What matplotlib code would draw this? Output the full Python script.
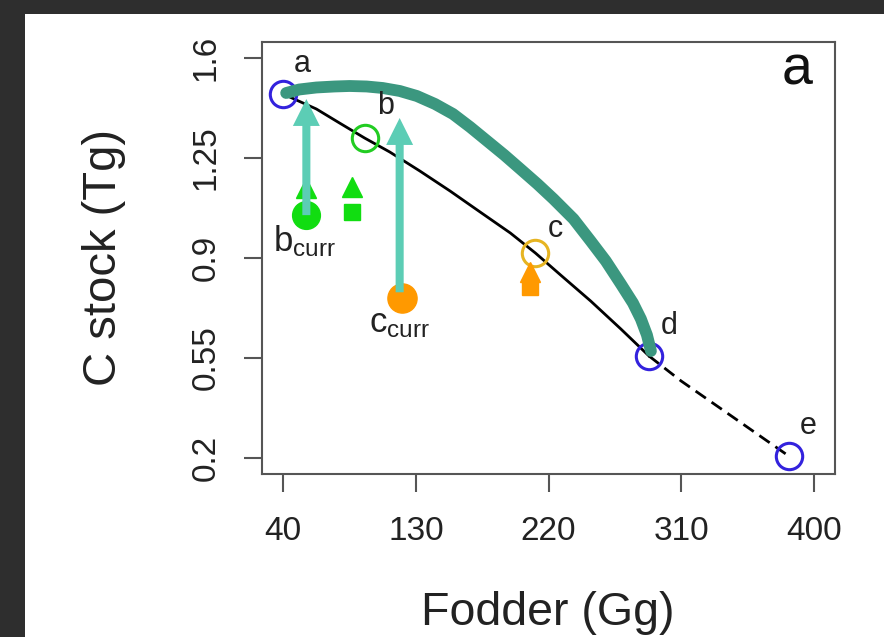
import matplotlib.pyplot as plt
from matplotlib.patches import Rectangle

plt.rcParams["font.family"] = ["Liberation Sans", "DejaVu Sans"]
plt.rcParams["mathtext.fontset"] = "custom"
plt.rcParams["mathtext.rm"] = "Liberation Sans"
plt.rcParams["mathtext.it"] = "Liberation Sans"
plt.rcParams["hatch.color"] = "#181818"
plt.rcParams["hatch.linewidth"] = 2.0

# trade-off frontier (solid part, then dashed extension)
front_x = [40, 48.9, 62.5, 78.2, 95.2, 112.3, 132.7, 153.2, 173.6, 194.1, 211.1, 228.2, 248.6, 269.1, 288.2]
front_y = [1.474, 1.453, 1.4215, 1.3725, 1.32, 1.271, 1.2045, 1.1345, 1.061, 0.9875, 0.9175, 0.8405, 0.7495, 0.6515, 0.557]
ext_x = [288.2, 310, 337.3, 364.5, 383]
ext_y = [0.557, 0.4695, 0.3715, 0.2735, 0.207]

# thick curve from a to d
arc_x = [42.0, 50.9, 62.5, 74.8, 85.0, 96.6, 107.5, 119.1, 130.7, 143.0, 155.2, 166.8, 178.4,
         190.0, 200.9, 212.5, 223.4, 237.0, 248.6, 258.9, 269.1, 277.3, 282.7, 286.8, 289.5]
arc_y = [1.4775, 1.4898, 1.4968, 1.5003, 1.502, 1.5003, 1.495, 1.4845, 1.467, 1.439, 1.404,
         1.3585, 1.3095, 1.2605, 1.2115, 1.159, 1.1065, 1.0365, 0.9595, 0.8895, 0.809, 0.7425,
         0.6865, 0.6305, 0.5745]

# scenario points a-e
pt_names = ["a", "b", "c", "d", "e"]
pt_x = [40, 95.2, 211.1, 288.2, 383]
pt_y = [1.474, 1.32, 0.917, 0.557, 0.207]
pt_colors = ["#3322dd", "#22cc22", "#e6b422", "#3322dd", "#3322dd"]

# current states
bcurr_x, bcurr_y = 55.7, 1.05
ccurr_x, ccurr_y = 120.5, 0.76
green_tri_x = [55.7, 86.4]
green_tri_y = [1.145, 1.15]
green_sq_x = [55.7, 86.4]
green_sq_y = [1.06, 1.06]
orange_tri_x = [207.7]
orange_tri_y = [0.85]
orange_sq_x = [207.7]
orange_sq_y = [0.80]

# arrows: (x, y start, y tip)
arrows = [(55.7, 1.05, 1.4565), (119.0, 0.78, 1.39)]

fig = plt.figure(figsize=(8.84, 6.37), dpi=100)
fig.patch.set_facecolor("#2e2e2e")
fig.patches.append(Rectangle((0, 0), 1, 1, transform=fig.transFigure, facecolor="none",
                             edgecolor="none", hatch="oo", zorder=-2))
fig.patches.append(Rectangle((25 / 884, 0), 1, 1 - 14 / 637, transform=fig.transFigure,
                             facecolor="white", edgecolor="none", zorder=-1))

ax = fig.add_axes([262 / 884, 163 / 637, 573 / 884, 432 / 637])
ax.set_facecolor("none")

ax.plot(front_x, front_y, color="black", lw=2, zorder=2)
ax.plot(ext_x, ext_y, color="black", lw=2, ls=(0, (4.5, 2.5)), zorder=2)

for x, y, c in zip(pt_x, pt_y, pt_colors):
    ax.plot(x, y, "o", ms=19, mfc="none", mec=c, mew=2.2, zorder=3)

ax.plot(green_tri_x, green_tri_y, "^", ms=15, color="#11dd11", zorder=3)
ax.plot(green_sq_x, green_sq_y, "s", ms=12, color="#11dd11", zorder=3)
ax.plot(bcurr_x, bcurr_y, "o", ms=20, color="#11dd11", zorder=3)
ax.plot(orange_tri_x, orange_tri_y, "^", ms=15, color="#ff9900", zorder=3)
ax.plot(orange_sq_x, orange_sq_y, "s", ms=12, color="#ff9900", zorder=3)
ax.plot(ccurr_x, ccurr_y, "o", ms=21, color="#ff9900", zorder=3)

ax.plot(arc_x, arc_y, color="#3b977f", lw=8.5, solid_capstyle="round",
        solid_joinstyle="round", zorder=4)

for x, y0, y1 in arrows:
    ax.annotate("", xy=(x, y1), xytext=(x, y0),
                arrowprops=dict(arrowstyle="simple,head_length=0.97,head_width=0.97,tail_width=0.29",
                                mutation_scale=20, lw=0, color="#5ccdb5",
                                shrinkA=0, shrinkB=0), zorder=5)

lbl_x = [53, 109.5, 224.8, 301.8, 396]
lbl_y = [1.579, 1.432, 1.0015, 0.662, 0.312]
for name, x, y in zip(pt_names, lbl_x, lbl_y):
    ax.text(x, y, name, fontsize=22, ha="center", va="center", color="#222222", zorder=6)

ax.text(54.3, 0.96, r"$\mathrm{b}_{\mathrm{curr}}$", fontsize=25, ha="center", va="center",
        color="#222222", zorder=6)
ax.text(119, 0.672, r"$\mathrm{c}_{\mathrm{curr}}$", fontsize=25, ha="center", va="center",
        color="#222222", zorder=6)

ax.text(0.934, 0.935, "a", transform=ax.transAxes, fontsize=40, ha="center", va="center",
        color="#111111")

ax.set_xlim(25.6, 414.4)
ax.set_ylim(0.144, 1.656)
ax.set_xticks([40, 130, 220, 310, 400])
ax.set_yticks([0.2, 0.55, 0.9, 1.25, 1.6])
ax.set_yticklabels(["0.2", "0.55", "0.9", "1.25", "1.6"])
ax.tick_params(axis="both", length=13, width=1.5, color="#555555", labelsize=24,
               labelcolor="#222222")
ax.tick_params(axis="x", pad=17)
ax.tick_params(axis="y", labelrotation=90, pad=16)
for lab in ax.get_yticklabels():
    lab.set_va("center")
for s in ax.spines.values():
    s.set_color("#555555")
    s.set_linewidth(1.5)

fig.text(548 / 884, 1 - 625 / 637, "Fodder (Gg)", fontsize=33.5, ha="center", va="baseline",
         color="#222222")
fig.text(104 / 884, 1 - 258 / 637, "C stock (Tg)", fontsize=34, rotation=90, ha="center",
         va="center", color="#222222")

fig.savefig("out.png", dpi=100, facecolor=fig.get_facecolor())
